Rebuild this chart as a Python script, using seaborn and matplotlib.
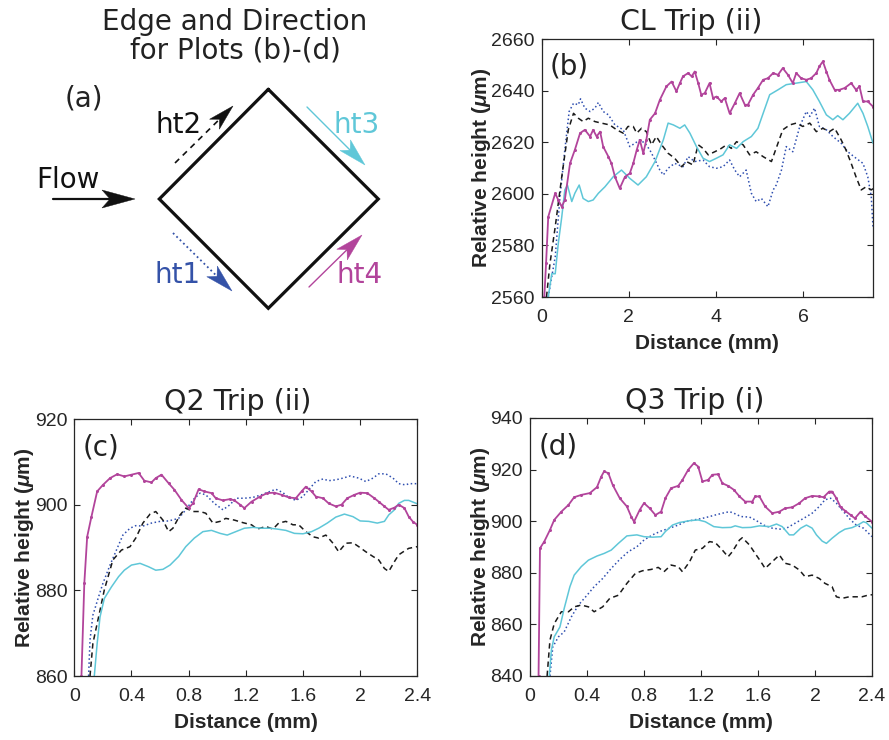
import numpy as np
import pandas as pd
import matplotlib
matplotlib.use("Agg")
import matplotlib.pyplot as plt
from matplotlib.patches import Polygon
import seaborn as sns

# ---------------- data ----------------
# Panel (b): CL Trip (ii)
b_ht4_x = [0.06,0.10,0.15,0.31,0.38,0.46,0.53,0.65,0.76,0.88,0.99,1.11,1.18,1.26,1.34,1.41,1.53,1.60,1.68,1.79,
           1.91,2.02,2.10,2.18,2.25,2.33,2.40,2.48,2.60,2.71,2.86,2.98,3.09,3.17,3.24,3.36,3.44,3.51,3.59,3.66,
           3.74,3.85,3.93,4.01,4.12,4.20,4.31,4.43,4.54,4.66,4.73,4.85,4.96,5.08,5.19,5.31,5.42,5.53,5.65,5.76,
           5.84,5.95,6.07,6.18,6.30,6.37,6.45,6.53,6.60,6.72,6.83,6.95,7.10,7.21,7.29,7.37,7.48,7.60]
b_ht4_y = [2560,2573,2591.1,2600.2,2597.6,2595,2597.6,2611.8,2617,2623.5,2624.8,2622.2,2624.8,2622.2,2624.1,2618.3,2614.4,2611.8,2606.6,2602.1,
           2606.6,2607.9,2611.8,2617,2620.9,2615.7,2620.9,2628.7,2631.2,2636.4,2641.6,2643.5,2639.7,2642.9,2645.5,2646.8,2645.5,2647.4,2642.9,2638.4,
           2639,2642.9,2637.1,2637.7,2635.8,2637.1,2631.2,2635.1,2639,2634.5,2634.5,2638.4,2641,2644.2,2644.8,2646.8,2646.1,2648.7,2646.1,2642.9,
           2646.8,2644.8,2644.2,2644.8,2646.8,2649.4,2651.3,2647.4,2644.2,2640.3,2640.3,2641,2642.9,2640.3,2641.6,2635.8,2635.8,2633.8]
b_ht3_x = [0.15,0.23,0.31,0.38,0.46,0.53,0.59,0.69,0.76,0.86,0.95,1.07,1.18,1.30,1.45,1.64,1.83,2.02,2.21,2.40,
           2.60,2.79,2.90,3.02,3.17,3.28,3.40,3.55,3.70,3.85,4.01,4.16,4.31,4.47,4.62,4.81,4.96,5.08,5.23,5.42,
           5.61,5.84,6.07,6.22,6.37,6.53,6.68,6.79,6.91,7.06,7.25,7.37,7.48,7.60]
b_ht3_y = [2560,2569,2569,2580.7,2591,2601.5,2603.4,2597,2600.2,2603.4,2598.2,2597,2597.6,2600.2,2602.7,2606.6,2609.2,2606,2603.4,2606.6,
           2612.5,2620.9,2627.4,2626.7,2625.4,2626.7,2623.5,2618.3,2613.8,2612.5,2613.8,2615.1,2619,2617.6,2620.2,2622.2,2625.4,2631.2,2638.4,2640.3,
           2642.3,2642.9,2643.5,2640.3,2635.8,2630.6,2628.7,2630.3,2628.7,2631.2,2635.1,2631.2,2626.1,2619.6]
b_ht1_x = [0.15,0.23,0.31,0.42,0.53,0.63,0.73,0.84,0.89,0.99,1.11,1.22,1.30,1.41,1.53,1.68,1.87,2.02,2.14,2.25,
           2.37,2.48,2.60,2.71,2.79,2.90,3.05,3.24,3.36,3.51,3.70,3.85,4.01,4.16,4.31,4.43,4.54,4.69,4.81,4.92,
           5.04,5.19,5.31,5.38,5.50,5.61,5.76,5.92,6.07,6.15,6.26,6.37,6.53,6.68,6.87,7.02,7.21,7.37,7.48,7.56,7.60]
b_ht1_y = [2560,2567.8,2575.5,2598.9,2617,2631.9,2635.1,2634.5,2636.8,2633.2,2631.9,2633.2,2635.4,2631.9,2630.6,2626.7,2624.8,2618.3,2619.6,2620.9,
           2619.6,2617,2613.1,2609.2,2607.3,2609.9,2611.8,2610.5,2614.4,2612.5,2613.1,2610.5,2609.9,2610.5,2613.1,2609.2,2606.6,2609.2,2600.2,2597,
           2598.2,2595,2601.5,2603.4,2609.2,2618.3,2616.3,2626.1,2631.9,2630,2633.2,2626.1,2624.8,2622.2,2619.6,2616.3,2613.8,2611.8,2606.6,2598.9,2587.2]
b_ht2_x = [0.11,0.19,0.31,0.46,0.61,0.73,0.84,0.95,1.07,1.22,1.37,1.56,1.72,1.87,1.98,2.10,2.18,2.29,2.40,2.52,
           2.63,2.75,2.90,3.05,3.21,3.32,3.47,3.59,3.70,3.82,3.97,4.12,4.24,4.35,4.47,4.62,4.77,4.92,5.08,5.27,
           5.42,5.53,5.69,5.84,5.99,6.15,6.30,6.45,6.60,6.72,6.87,6.98,7.10,7.21,7.33,7.44,7.56,7.60]
b_ht2_y = [2560,2573,2587.2,2606.6,2624.8,2631.2,2629.3,2628,2629.3,2628,2627.4,2626.7,2624.8,2623.5,2626.1,2626.1,2623.5,2625.4,2624.1,2619,
           2622.2,2619,2615.7,2613.8,2610.5,2612.5,2611.2,2619,2617.6,2615.1,2616.3,2617.6,2619,2617.6,2620.2,2619,2615.1,2616.3,2614.4,2612.5,
           2619.6,2624.8,2626.7,2627.4,2626.1,2627.4,2624.1,2625.4,2624.1,2625.4,2620.9,2617,2611.8,2606.6,2601.5,2602.7,2601.5,2602]

# Panel (c): Q2 Trip (ii)
c_ht4_x = [0.05,0.07,0.09,0.12,0.16,0.20,0.25,0.30,0.35,0.40,0.45,0.49,0.54,0.57,0.61,0.66,0.70,0.75,0.80,0.83,
           0.87,0.91,0.96,0.99,1.04,1.09,1.12,1.16,1.19,1.24,1.30,1.35,1.40,1.45,1.50,1.55,1.59,1.62,1.66,1.69,
           1.74,1.78,1.83,1.87,1.91,1.96,2.00,2.05,2.10,2.13,2.17,2.20,2.24,2.27,2.31,2.34,2.37,2.40]
c_ht4_y = [860,881.6,892.5,897.2,903.1,904.6,906.2,907.1,906.6,907,907.4,905.6,905.2,906.2,907,905,903.5,901.1,899.2,900.3,
           903.6,903.1,902.7,901.5,901,901.3,901,900,899.2,900.7,901.9,902.7,902.8,902.3,901.7,901.5,903.1,904.2,903.1,901.9,
           901.5,900.3,899.6,900,901.5,902.3,902.8,902.7,901.5,900.7,899.6,898.8,899.3,900,899.2,897.2,896,895.3]
c_ht1_x = [0.10,0.11,0.13,0.17,0.20,0.25,0.30,0.34,0.39,0.43,0.48,0.54,0.60,0.66,0.73,0.78,0.83,0.88,0.92,0.98,
           1.04,1.09,1.13,1.19,1.25,1.31,1.37,1.41,1.46,1.50,1.55,1.60,1.64,1.69,1.74,1.78,1.83,1.88,1.93,1.99,
           2.04,2.09,2.13,2.18,2.23,2.27,2.32,2.34,2.40]
c_ht1_y = [860,868.4,874.2,878.5,881.6,885.9,889.8,892.9,894.5,895.1,895,895.7,896.1,896.2,896.8,898.8,901.1,902.7,902.3,900.3,
           898.8,900,901.5,901.5,901.7,902.3,903.1,903.6,902.8,901.7,901,901.9,903.5,905.4,906,905.6,905.8,906.2,906.7,906.2,
           905.4,906.2,907.2,907.2,906.2,904.9,904.6,904.9,904.9]
c_ht2_x = [0.11,0.13,0.17,0.21,0.27,0.33,0.39,0.43,0.48,0.53,0.57,0.62,0.66,0.69,0.74,0.78,0.83,0.88,0.92,0.97,
           1.02,1.06,1.12,1.18,1.24,1.28,1.34,1.39,1.43,1.48,1.53,1.57,1.62,1.67,1.71,1.76,1.81,1.85,1.90,1.95,
           1.99,2.04,2.09,2.13,2.17,2.20,2.24,2.27,2.32,2.34,2.40]
c_ht2_y = [860,867.6,873.8,880.1,887.1,889.4,890.2,892.2,895.7,897.8,898.4,896.4,893.7,894.5,897.6,899.2,898.4,898.4,898,895.7,
           896.1,896.8,896.4,895.8,895.3,894.3,894.9,894.3,895.7,896.1,895.3,895.3,893.7,892.5,892.2,892.9,891,889,891,891.1,
           890.2,889,887.9,887.1,885.1,884.4,886.7,888.3,889.4,889.8,890.2]
c_ht3_x = [0.14,0.16,0.18,0.21,0.26,0.31,0.35,0.40,0.46,0.52,0.57,0.62,0.67,0.73,0.78,0.84,0.90,0.96,1.02,1.07,
           1.13,1.19,1.25,1.31,1.37,1.42,1.48,1.54,1.60,1.66,1.71,1.77,1.83,1.89,1.95,2.00,2.06,2.12,2.17,2.20,
           2.24,2.27,2.31,2.34,2.40]
c_ht3_y = [860,867.6,873.8,878.1,880.8,883.2,884.7,885.9,886.3,885.5,884.7,884.9,885.9,887.9,890.2,892.2,893.7,894,893.3,892.9,
           893.7,894.5,894.7,894.5,894.5,894.3,894,893.3,893.2,893.7,894.5,895.7,897.1,897.8,897.2,896.2,896.1,895.7,896.1,897.6,
           898.8,900.3,901,901,900.2]

# Panel (d): Q3 Trip (i)
d_ht4_x = [0.06,0.07,0.10,0.14,0.17,0.22,0.27,0.31,0.36,0.42,0.47,0.50,0.52,0.55,0.58,0.63,0.68,0.71,0.73,0.77,
           0.80,0.84,0.88,0.92,0.95,0.99,1.04,1.07,1.11,1.15,1.18,1.21,1.25,1.28,1.32,1.35,1.39,1.43,1.47,1.51,
           1.56,1.58,1.61,1.65,1.70,1.75,1.79,1.84,1.89,1.93,1.98,2.03,2.06,2.10,2.12,2.15,2.18,2.21,2.25,2.28,
           2.32,2.35,2.40]
d_ht4_y = [840,889.5,892.1,896.6,900.5,903.7,906.3,909.3,910.2,910.9,913.2,917.3,919.3,918.6,914.1,908.9,905.7,901.8,899.8,904.4,
           907,905,902.4,903.7,908.9,912.8,913.7,916,919.9,922.5,921.2,915.4,916,918,918.2,914.7,913.7,912.2,909.6,907.6,
           907.6,909.6,909.6,905.7,903.1,903.7,905,905.4,907,908.9,909.8,909.6,909.3,911.5,911.5,908.9,905.4,904.1,902.4,901.1,
           903.7,902,899.8]
d_ht3_x = [0.135,0.15,0.17,0.21,0.24,0.28,0.31,0.36,0.41,0.47,0.52,0.57,0.62,0.68,0.75,0.80,0.86,0.92,0.95,1.00,
           1.05,1.12,1.18,1.23,1.29,1.35,1.41,1.44,1.49,1.55,1.61,1.68,1.73,1.77,1.82,1.85,1.90,1.94,1.98,2.01,
           2.05,2.08,2.12,2.17,2.21,2.26,2.30,2.34,2.36,2.40]
d_ht3_y = [840,850,855.2,859,866.2,874.6,879.1,882.4,884.9,886.5,887.5,888.8,891.4,894.3,894.7,894,893.8,894,896,898.5,
           899.5,900.2,900.5,899.8,897.9,897.5,897.6,898.2,897.5,897.6,898.2,897.9,898.9,897.9,894.7,894.7,897.3,898.5,897.3,894.7,
           892.3,891.4,893.4,895.6,896.9,897.5,898.5,899.8,899.4,897.3]
d_ht1_x = [0.14,0.16,0.20,0.24,0.29,0.34,0.40,0.45,0.51,0.57,0.63,0.69,0.75,0.80,0.86,0.92,0.98,1.04,1.09,1.15,
           1.21,1.26,1.30,1.35,1.40,1.43,1.48,1.54,1.58,1.64,1.70,1.76,1.80,1.86,1.92,1.98,2.03,2.07,2.11,2.15,
           2.20,2.25,2.29,2.34,2.40]
d_ht1_y = [840,851.3,855.2,857.1,862.9,867.5,871.3,874.6,877.8,881.7,885.2,888.2,890.1,892.7,894.7,896.2,897.3,898.5,899.8,900.5,
           901.1,901.8,902.4,903.1,903.7,903.1,901.8,901.6,900.5,898.5,897.3,896.9,897.3,899.2,901.1,903.1,905.7,908.3,908.9,907,
           903.7,900.5,898.5,897.3,894]
d_ht2_x = [0.12,0.14,0.17,0.22,0.27,0.31,0.36,0.41,0.45,0.51,0.56,0.62,0.68,0.74,0.79,0.85,0.90,0.94,0.99,1.04,
           1.07,1.12,1.16,1.21,1.26,1.30,1.35,1.39,1.42,1.47,1.49,1.54,1.58,1.62,1.65,1.70,1.75,1.79,1.84,1.89,
           1.93,1.98,2.03,2.07,2.12,2.15,2.19,2.24,2.28,2.33,2.37,2.40]
d_ht2_y = [840,853.9,860.3,864.9,864.9,866.8,867.5,866.8,864.9,866.8,870.1,871.3,875.9,879.8,880.8,881.3,882.1,880.4,883,882.4,
           880.4,884.3,888.8,889.5,892.1,891.7,888.8,886.2,888.2,892.7,893.6,890.8,887.5,884.3,881.7,884.3,886.9,883.7,883,881.1,
           878.5,879.1,877.8,875.9,874.6,870.7,870.1,870.7,870.7,870.7,871.3,871.5]

titles = ["CL Trip (ii)", "Q2 Trip (ii)", "Q3 Trip (i)"]
panel_labels = ["(b)", "(c)", "(d)"]
b_xticks = [0, 2, 4, 6]
cd_xticks = [0, 0.4, 0.8, 1.2, 1.6, 2.0, 2.4]
cd_xticklabels = ["0", "0.4", "0.8", "1.2", "1.6", "2", "2.4"]
b_yticks = [2560, 2580, 2600, 2620, 2640, 2660]
c_yticks = [860, 880, 900, 920]
d_yticks = [840, 860, 880, 900, 920, 940]

# ---------------- style ----------------
C_MAG = "#b2449b"
C_CYAN = "#5fc7d8"
C_BLUE = "#2f4fb0"
C_BLK = "#1a1a1a"
AX_C = "#262626"

sns.set_theme(style="ticks")
plt.rcParams["font.family"] = ["DejaVu Sans"]
plt.rcParams["mathtext.fontset"] = "custom"
plt.rcParams["mathtext.it"] = "Liberation Sans:bold:italic"
plt.rcParams["mathtext.rm"] = "Liberation Sans:bold"

fig = plt.figure(figsize=(8.89, 7.40), dpi=100)
W, H = 889.0, 740.0


def ax_px(left, top, right, bottom):
    return fig.add_axes([left / W, 1 - bottom / H, (right - left) / W, (bottom - top) / H])


ax_b = ax_px(541.7, 39, 873, 297)
ax_c = ax_px(74.3, 419, 417.3, 676)
ax_d = ax_px(530, 418, 872, 676)


def draw_series(ax, x, y, color, ls, lw, marker=None):
    df = pd.DataFrame({"x": x, "y": y})
    kw = dict(color=color, linestyle=ls, linewidth=lw)
    if marker:
        kw.update(marker=marker, markersize=2.2, markeredgewidth=0)
    sns.lineplot(data=df, x="x", y="y", ax=ax, estimator=None, sort=False, **kw)


DASH = (0, (3.5, 2.5))
series_sets = [
    (ax_b, [(b_ht1_x, b_ht1_y), (b_ht2_x, b_ht2_y), (b_ht3_x, b_ht3_y), (b_ht4_x, b_ht4_y)]),
    (ax_c, [(c_ht1_x, c_ht1_y), (c_ht2_x, c_ht2_y), (c_ht3_x, c_ht3_y), (c_ht4_x, c_ht4_y)]),
    (ax_d, [(d_ht1_x, d_ht1_y), (d_ht2_x, d_ht2_y), (d_ht3_x, d_ht3_y), (d_ht4_x, d_ht4_y)]),
]
for ax, ser in series_sets:
    draw_series(ax, *ser[0], C_BLUE, ":", 1.1)
    draw_series(ax, *ser[1], C_BLK, DASH, 1.1)
    draw_series(ax, *ser[2], C_CYAN, "-", 1.1)
    draw_series(ax, *ser[3], C_MAG, "-", 1.3, marker="o")

cfg = [
    (ax_b, (0, 7.6), (2560, 2660), b_xticks, [str(t) for t in b_xticks], b_yticks, 0.451, 0.895, 0.082),
    (ax_c, (0, 2.4), (860, 920), cd_xticks, cd_xticklabels, c_yticks, 0.476, 0.89, 0.078),
    (ax_d, (0, 2.4), (840, 940), cd_xticks, cd_xticklabels, d_yticks, 0.482, 0.89, 0.082),
]
for i, (ax, xl, yl, xt, xtl, yt, tx, ly, lx) in enumerate(cfg):
    ax.set_xlim(*xl)
    ax.set_ylim(*yl)
    ax.set_xticks(xt)
    ax.set_xticklabels(xtl)
    ax.set_yticks(yt)
    ax.set_yticklabels([str(t) for t in yt])
    for lab in ax.get_xticklabels() + ax.get_yticklabels():
        lab.set_fontfamily("Liberation Sans")
        lab.set_fontsize(14)
        lab.set_color(AX_C)
    ax.tick_params(direction="in", length=4, width=0.8, color=AX_C, top=True, right=True)
    ax.tick_params(axis="x", pad=8.5)
    ax.tick_params(axis="y", pad=5)
    for s in ax.spines.values():
        s.set_visible(True)
        s.set_color(AX_C)
        s.set_linewidth(0.9)
    ax.set_xlabel("Distance (mm)", fontfamily="Liberation Sans", fontweight="bold",
                  fontsize=15, color=AX_C, labelpad=6)
    ax.set_ylabel("Relative height ($\\mu$m)", fontfamily="Liberation Sans", fontweight="bold",
                  fontsize=15, color=AX_C, labelpad=-1)
    t = ax.text(tx, 1.0, titles[i], transform=ax.transAxes, ha="center", va="baseline",
                fontsize=20.5, color="#222222")
    t.set_position((tx, 1.0 + 9.0 / ax.bbox.height))
    ax.text(lx, ly, panel_labels[i], transform=ax.transAxes, ha="center", va="center",
            fontsize=20, color="#222222")
    ax.set_facecolor("white")

# ---------------- panel (a): schematic ----------------
ax_a = ax_px(0, 0, 440, 330)
ax_a.set_xlim(0, 440)
ax_a.set_ylim(330, 0)
ax_a.axis("off")

diamond_x = [268.3, 378.3, 268.3, 159.3, 268.3]
diamond_y = [89.3, 199.0, 308.3, 199.0, 89.3]
ax_a.plot(diamond_x, diamond_y, color="#111111", lw=2.3, solid_joinstyle="miter")


def arrow(ax, start, tip, color, ls, lw, L, Wd, notch):
    sx, sy = start
    tx, ty = tip
    d = np.array([tx - sx, ty - sy], dtype=float)
    d /= np.hypot(*d)
    n = np.array([-d[1], d[0]])
    t = np.array([tx, ty])
    base = t - (L - notch) * d
    ax.plot([sx, base[0]], [sy, base[1]], color=color, linestyle=ls, lw=lw)
    pts = [t, t - L * d + Wd * n, base, t - L * d - Wd * n]
    ax.add_patch(Polygon(pts, closed=True, fc=color, ec=color, lw=0.3))


arrow(ax_a, (53, 199), (135, 199), "#111111", "-", 1.6, 33, 9, 8)
arrow(ax_a, (175, 163), (233, 106), "#111111", (0, (3.5, 3)), 1.2, 26, 7, 7)
arrow(ax_a, (307, 107), (365, 165), C_CYAN, "-", 1.0, 28, 7.5, 7)
arrow(ax_a, (173, 233), (232, 291), "#3452a8", ":", 1.3, 28, 7.5, 7)
arrow(ax_a, (309, 287), (362, 235), C_MAG, "-", 1.0, 28, 7.5, 7)

txt_kw = dict(ha="center", va="baseline", fontsize=20)
ax_a.text(235, 30, "Edge and Direction", color="#222222", **txt_kw)
ax_a.text(235, 59, "for Plots (b)-(d)", color="#222222", **txt_kw)
ax_a.text(84, 107, "(a)", color="#222222", **txt_kw)
ax_a.text(68, 188, "Flow", color="#111111", **txt_kw)
ax_a.text(179, 133, "ht2", color="#111111", **txt_kw)
ax_a.text(357, 133, "ht3", color=C_CYAN, **txt_kw)
ax_a.text(177.5, 283, "ht1", color="#3452a8", **txt_kw)
ax_a.text(359.5, 283, "ht4", color=C_MAG, **txt_kw)

fig.savefig("out.png", dpi=100, facecolor="white")
